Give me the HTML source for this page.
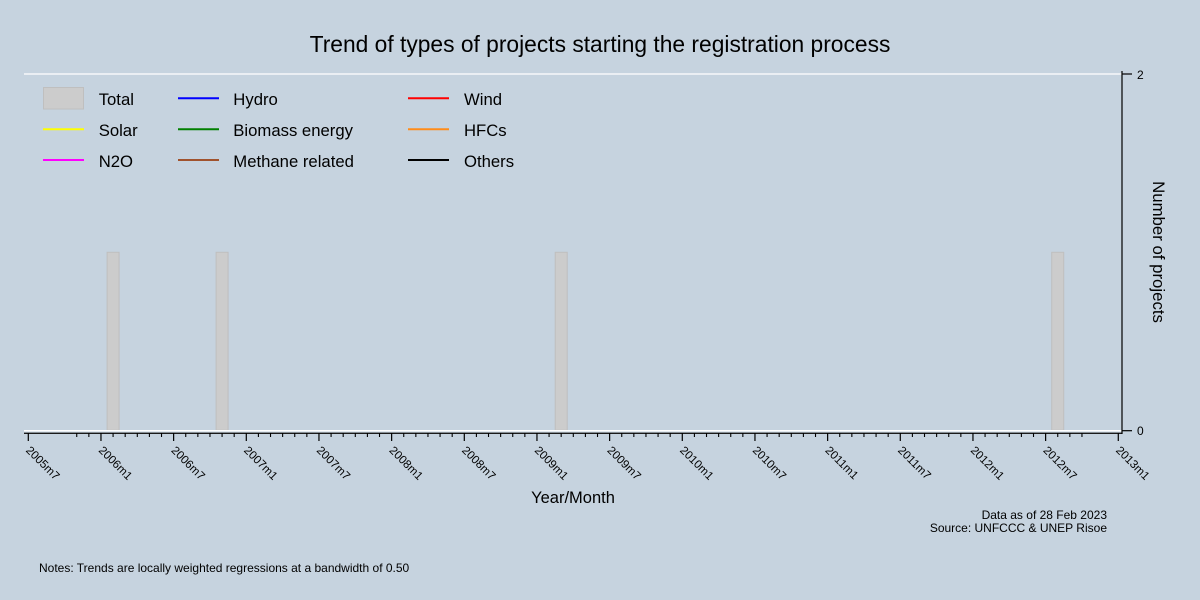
<!DOCTYPE html>
<html>
<head>
<meta charset="utf-8">
<style>
  html, body { margin:0; padding:0; background:#c6d3df; }
  svg { display:block; }
  text { font-family: "Liberation Sans", Arial, sans-serif; fill:#000; }
</style>
</head>
<body>
<svg width="1200" height="600" viewBox="0 0 1200 600" xmlns="http://www.w3.org/2000/svg">
  <rect x="0" y="0" width="1200" height="600" fill="#c6d3df"/>

  <!-- Title -->
  <text x="600" y="52" font-size="22.8" text-anchor="middle">Trend of types of projects starting the registration process</text>

  <!-- gridlines -->
  <line x1="24" y1="74" x2="1122" y2="74" stroke="#ffffff" stroke-width="1.3"/>

  <!-- bars -->
  <g fill="#cccccc" stroke="#bfbfbf" stroke-width="1">
    <rect x="107.1" y="252.3" width="12" height="178"/>
    <rect x="216.1" y="252.3" width="12" height="178"/>
    <rect x="555.2" y="252.3" width="12" height="178"/>
    <rect x="1051.7" y="252.3" width="12" height="178"/>
  </g>

  <line x1="24" y1="430.7" x2="1122" y2="430.7" stroke="#ffffff" stroke-width="1.5"/>

  <!-- x axis line -->
  <line x1="24" y1="433.3" x2="1122.5" y2="433.3" stroke="#1a1a1a" stroke-width="1.4"/>

  <!-- right y axis -->
  <line x1="1122" y1="71" x2="1122" y2="434" stroke="#000" stroke-width="1.2"/>
  <line x1="1122" y1="74" x2="1132" y2="74" stroke="#000" stroke-width="1.2"/>
  <line x1="1122" y1="430.7" x2="1132" y2="430.7" stroke="#000" stroke-width="1.2"/>
  <text x="1137" y="79" font-size="12">2</text>
  <text x="1137" y="435" font-size="12">0</text>

  <!-- y axis title -->
  <text transform="translate(1153,252) rotate(90)" font-size="16.8" text-anchor="middle">Number of projects</text>

  <!-- major ticks -->
  <path stroke="#000" stroke-width="1.2" fill="none" d="
    M28.3 433V441 M100.97 433V441 M173.63 433V441 M246.3 433V441 M318.96 433V441 M391.63 433V441
    M464.3 433V441 M536.96 433V441 M609.63 433V441 M682.29 433V441 M754.96 433V441 M827.63 433V441
    M900.29 433V441 M972.96 433V441 M1045.62 433V441 M1118.29 433V441"/>

  <!-- minor ticks -->
  <path stroke="#000" stroke-width="1.1" fill="none" d="
    M76.74 433V437 M88.86 433V437
    M113.08 433V437 M125.19 433V437 M137.3 433V437 M149.41 433V437 M161.52 433V437
    M185.74 433V437 M197.85 433V437 M209.97 433V437 M222.08 433V437 M234.19 433V437
    M258.41 433V437 M270.52 433V437 M282.63 433V437 M294.74 433V437 M306.85 433V437
    M331.08 433V437 M343.19 433V437 M355.3 433V437 M367.41 433V437 M379.52 433V437
    M403.74 433V437 M415.85 433V437 M427.96 433V437 M440.07 433V437 M452.19 433V437
    M476.41 433V437 M488.52 433V437 M500.63 433V437 M512.74 433V437 M524.85 433V437
    M549.07 433V437 M561.18 433V437 M573.3 433V437 M585.41 433V437 M597.52 433V437
    M621.74 433V437 M633.84 433V437 M645.96 433V437 M658.07 433V437 M670.18 433V437
    M694.41 433V437 M706.52 433V437 M718.63 433V437 M730.74 433V437 M742.85 433V437
    M767.07 433V437 M779.18 433V437 M791.29 433V437 M803.4 433V437 M815.52 433V437
    M839.74 433V437 M851.85 433V437 M863.96 433V437 M876.07 433V437 M888.18 433V437
    M912.4 433V437 M924.51 433V437 M936.63 433V437 M948.74 433V437 M960.85 433V437
    M985.07 433V437 M997.18 433V437 M1009.29 433V437 M1021.4 433V437 M1033.51 433V437
    M1057.74 433V437 M1069.85 433V437 M1081.96 433V437"/>

  <!-- x tick labels -->
  <g font-size="11.6">
    <text transform="translate(25.3,451) rotate(45)">2005m7</text>
    <text transform="translate(97.97,451) rotate(45)">2006m1</text>
    <text transform="translate(170.63,451) rotate(45)">2006m7</text>
    <text transform="translate(243.3,451) rotate(45)">2007m1</text>
    <text transform="translate(315.96,451) rotate(45)">2007m7</text>
    <text transform="translate(388.63,451) rotate(45)">2008m1</text>
    <text transform="translate(461.3,451) rotate(45)">2008m7</text>
    <text transform="translate(533.96,451) rotate(45)">2009m1</text>
    <text transform="translate(606.63,451) rotate(45)">2009m7</text>
    <text transform="translate(679.29,451) rotate(45)">2010m1</text>
    <text transform="translate(751.96,451) rotate(45)">2010m7</text>
    <text transform="translate(824.63,451) rotate(45)">2011m1</text>
    <text transform="translate(897.29,451) rotate(45)">2011m7</text>
    <text transform="translate(969.96,451) rotate(45)">2012m1</text>
    <text transform="translate(1042.62,451) rotate(45)">2012m7</text>
    <text transform="translate(1115.29,451) rotate(45)">2013m1</text>
  </g>

  <!-- x axis title -->
  <text x="573" y="503" font-size="16.5" text-anchor="middle">Year/Month</text>

  <!-- legend -->
  <rect x="43.5" y="87.5" width="40" height="21.5" fill="#cccccc" stroke="#bfbfbf" stroke-width="1"/>
  <line x1="43" y1="129.3" x2="84" y2="129.3" stroke="#ffff00" stroke-width="2"/>
  <line x1="43" y1="160" x2="84" y2="160" stroke="#ff00ff" stroke-width="2"/>
  <line x1="178" y1="98.3" x2="219" y2="98.3" stroke="#0000ff" stroke-width="2"/>
  <line x1="178" y1="129.3" x2="219" y2="129.3" stroke="#008000" stroke-width="2"/>
  <line x1="178" y1="160" x2="219" y2="160" stroke="#a0522d" stroke-width="2"/>
  <line x1="408" y1="98.3" x2="449" y2="98.3" stroke="#ff0000" stroke-width="2"/>
  <line x1="408" y1="129.3" x2="449" y2="129.3" stroke="#ff8c1a" stroke-width="2"/>
  <line x1="408" y1="160" x2="449" y2="160" stroke="#000000" stroke-width="2"/>
  <g font-size="16.7">
    <text x="98.7" y="105">Total</text>
    <text x="98.7" y="136">Solar</text>
    <text x="98.7" y="167">N2O</text>
    <text x="233.3" y="105">Hydro</text>
    <text x="233.3" y="136">Biomass energy</text>
    <text x="233.3" y="167">Methane related</text>
    <text x="464" y="105">Wind</text>
    <text x="464" y="136">HFCs</text>
    <text x="464" y="167">Others</text>
  </g>

  <!-- footer -->
  <text x="1107" y="519" font-size="12" text-anchor="end">Data as of 28 Feb 2023</text>
  <text x="1107" y="532" font-size="12" text-anchor="end">Source: UNFCCC &amp; UNEP Risoe</text>
  <text x="39" y="572" font-size="12">Notes: Trends are locally weighted regressions at a bandwidth of 0.50</text>
</svg>
</body>
</html>
